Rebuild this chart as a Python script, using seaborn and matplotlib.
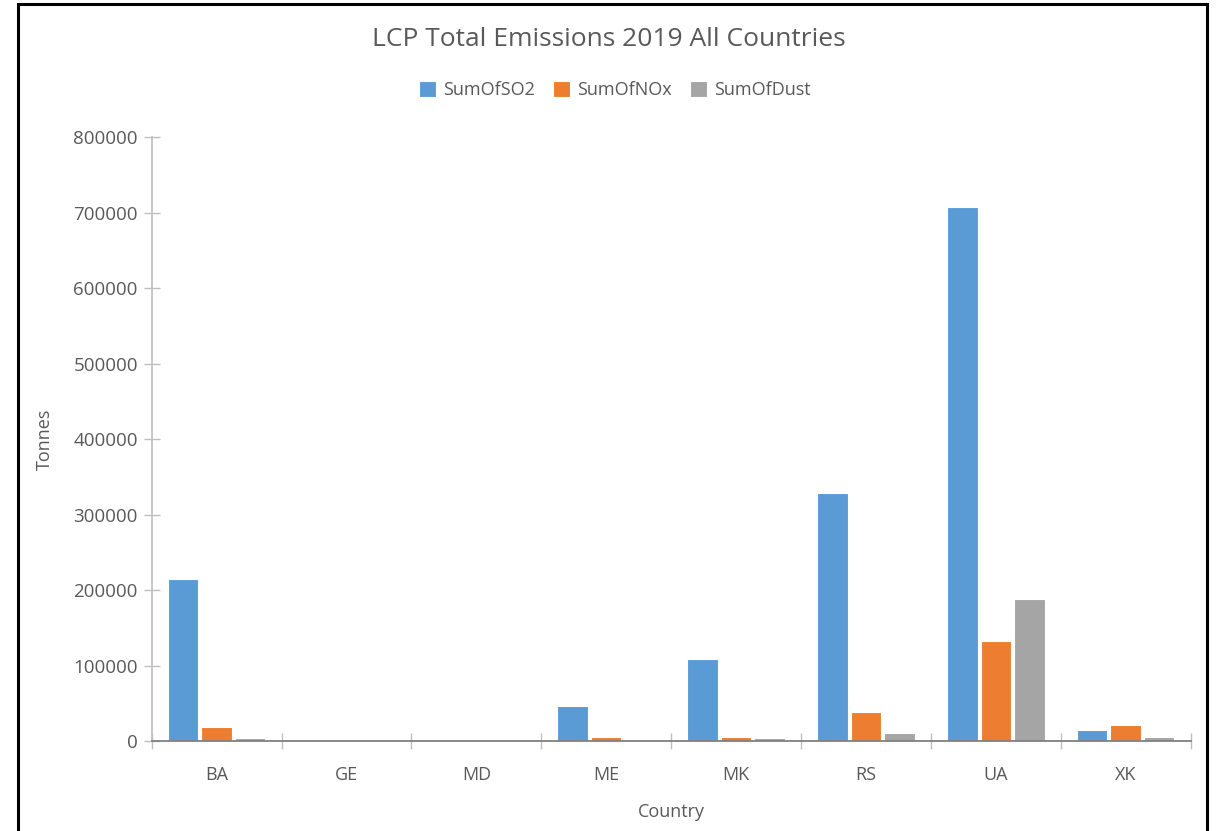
import pandas as pd
import matplotlib.pyplot as plt
import seaborn as sns
import numpy as np
from matplotlib.patches import Rectangle

# values (tonnes)
countries = ['BA', 'GE', 'MD', 'ME', 'MK', 'RS', 'UA', 'XK']
so2 = [214600, 0, 0, 46400, 109000, 328500, 707300, 14200]
nox = [18500, 0, 0, 5700, 5700, 38000, 132800, 20800]
dust = [3500, 0, 0, 0, 3500, 10200, 188500, 5700]
series = ['SumOfSO2', 'SumOfNOx', 'SumOfDust']
colors = ['#5B9BD5', '#ED7D31', '#A5A5A5']

df = pd.DataFrame({'Country': countries, 'SumOfSO2': so2,
                   'SumOfNOx': nox, 'SumOfDust': dust})
long_df = df.melt(id_vars='Country', var_name='Series', value_name='Tonnes')

sns.set_theme(style='white')
plt.rcParams['font.family'] = ['Open Sans', 'DejaVu Sans']
txt = '#595959'

fig = plt.figure(figsize=(12.18, 8.31), dpi=100)
ax = fig.add_axes([0.1245, 0.1083, 0.9775 - 0.1245, 0.8351 - 0.1083])

sns.barplot(data=long_df, x='Country', y='Tonnes', hue='Series',
            hue_order=series, palette=colors, saturation=1,
            width=0.775, gap=0.09, edgecolor='white', linewidth=0.8,
            ax=ax, legend=True)

ax.set_ylim(0, 800000)
ax.set_yticks(np.arange(0, 800001, 100000))
ax.set_yticklabels([str(v) for v in range(0, 800001, 100000)])
ax.set_xlim(-0.5, 7.5)

ax.spines['top'].set_visible(False)
ax.spines['right'].set_visible(False)
ax.spines['left'].set_color('#BFBFBF')
ax.spines['bottom'].set_color('#808080')
ax.spines['bottom'].set_linewidth(1.3)

ax.tick_params(axis='y', left=True, direction='inout', length=12, width=1,
               color='#BFBFBF', labelcolor=txt, labelsize=13.5, pad=4)
ax.tick_params(axis='x', which='major', bottom=True, length=0,
               labelcolor=txt, labelsize=13, pad=18)
ax.set_xticks(np.arange(-0.5, 8, 1), minor=True)
ax.tick_params(axis='x', which='minor', bottom=True, direction='inout',
               length=12, width=1, color='#BFBFBF')

ax.set_xlabel('Country', color=txt, fontsize=13, labelpad=14)
ax.set_ylabel('Tonnes', color=txt, fontsize=13, labelpad=14)

ax.legend(loc='center', bbox_to_anchor=(615 / 1218, 1 - 90 / 831),
          bbox_transform=fig.transFigure, ncol=3,
          frameon=False, fontsize=13, labelcolor=txt,
          handlelength=0.95, handleheight=0.95, handletextpad=0.4,
          columnspacing=1.0)

fig.text(0.5, 0.953, 'LCP Total Emissions 2019 All Countries',
         ha='center', va='center', fontsize=19, color=txt)

# black frame of the screenshot
fig.patches.append(Rectangle((18 / 1218, -0.05), (1207 - 18) / 1218,
                             1.05 - 4 / 831, transform=fig.transFigure,
                             fill=False, edgecolor='black', linewidth=2.2))

fig.savefig('out.png', dpi=100)
